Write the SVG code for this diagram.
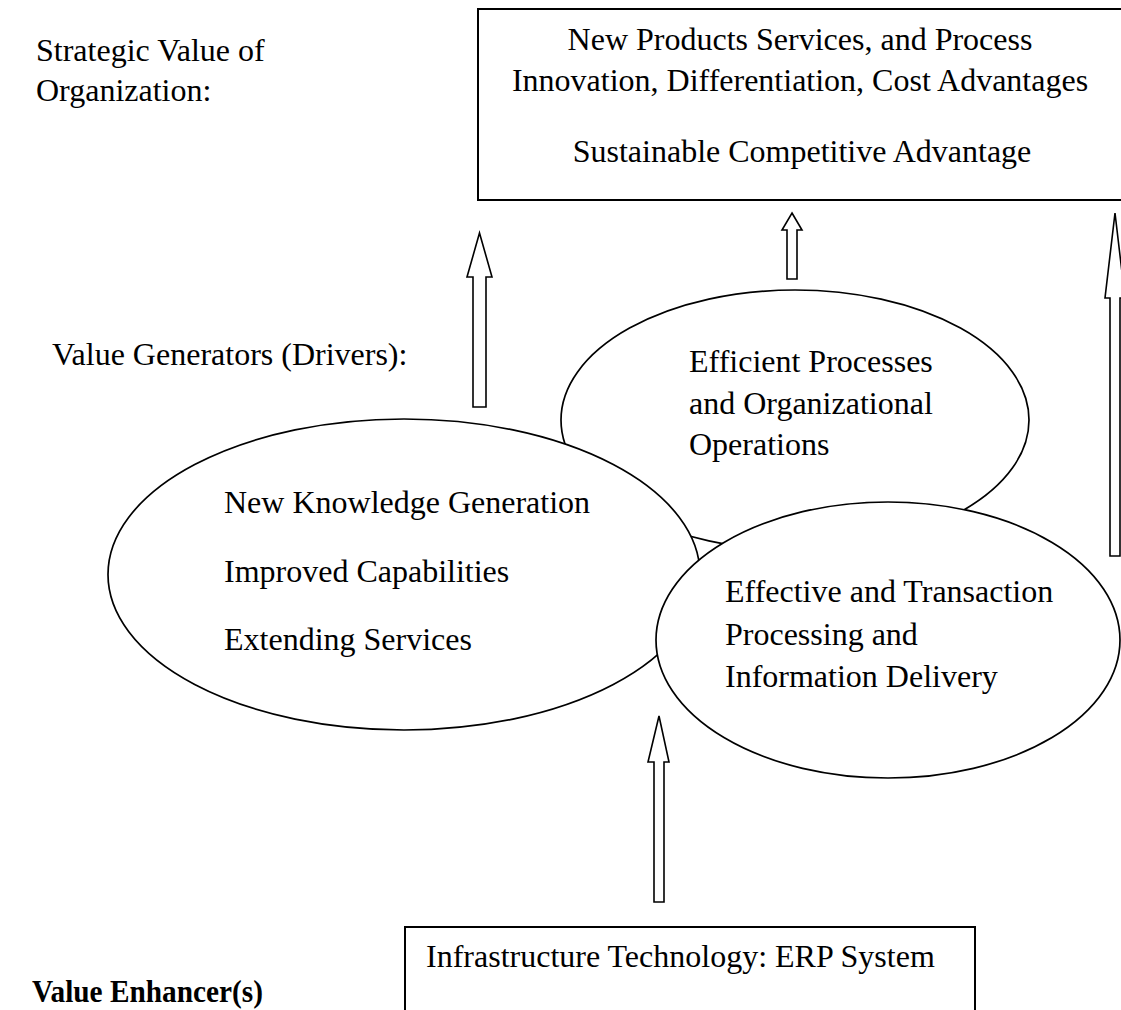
<svg xmlns="http://www.w3.org/2000/svg" width="1121" height="1010" viewBox="0 0 1121 1010">
  <style>
    text { font-family: "Liberation Serif", "Times New Roman", serif; font-size: 32px; fill: #000; }
    .bold { font-weight: bold; }
    .mid { text-anchor: middle; }
    .box { fill: #fff; stroke: #000; stroke-width: 2; }
    .oval { fill: #fff; stroke: #000; stroke-width: 1.7; }
    .arrow { fill: #fff; stroke: #000; stroke-width: 1.6; stroke-linejoin: miter; }
  </style>
  <rect width="1121" height="1010" fill="#fff"/>

  <!-- level labels on the left -->
  <g id="level-labels">
    <text x="36" y="61">Strategic Value of</text>
    <text x="36" y="101">Organization:</text>
    <text x="52" y="365">Value Generators (Drivers):</text>
    <text class="bold" x="32" y="1002" textLength="231" lengthAdjust="spacingAndGlyphs">Value Enhancer(s)</text>
  </g>

  <!-- strategic value box -->
  <g id="strategic-value">
    <rect class="box" x="478" y="9" width="660" height="191"/>
    <text class="mid" x="800" y="50">New Products Services, and Process</text>
    <text class="mid" x="800" y="91">Innovation, Differentiation, Cost Advantages</text>
    <text class="mid" x="802" y="162">Sustainable Competitive Advantage</text>
  </g>

  <!-- value generators -->
  <g id="efficient-processes">
    <ellipse class="oval" cx="795" cy="420" rx="234" ry="130"/>
    <text x="689" y="372">Efficient Processes</text>
    <text x="689" y="414">and Organizational</text>
    <text x="689" y="455">Operations</text>
  </g>

  <g id="knowledge-generation">
    <ellipse class="oval" cx="404" cy="574.5" rx="296" ry="155.5"/>
    <text x="224" y="513">New Knowledge Generation</text>
    <text x="224" y="582">Improved Capabilities</text>
    <text x="224" y="650">Extending Services</text>
  </g>

  <g id="transaction-processing">
    <ellipse class="oval" cx="888" cy="640" rx="232" ry="138"/>
    <text x="725" y="602">Effective and Transaction</text>
    <text x="725" y="645">Processing and</text>
    <text x="725" y="687">Information Delivery</text>
  </g>

  <!-- value enhancer box -->
  <g id="infrastructure">
    <rect class="box" x="405" y="927" width="570" height="100"/>
    <text x="426" y="967">Infrastructure Technology: ERP System</text>
  </g>

  <!-- block arrows -->
  <g id="connectors">
    <polygon class="arrow" points="479.5,233 492,277 486,277 486,407 473,407 473,277 467,277"/>
    <polygon class="arrow" points="792,213 802,230 797,230 797,279 787,279 787,230 782,230"/>
    <polygon class="arrow" points="1115,213 1125,298 1120,298 1120,556 1110,556 1110,298 1105,298"/>
    <polygon class="arrow" points="659,716 669,762 664,762 664,902 654,902 654,762 648,762"/>
  </g>
</svg>
